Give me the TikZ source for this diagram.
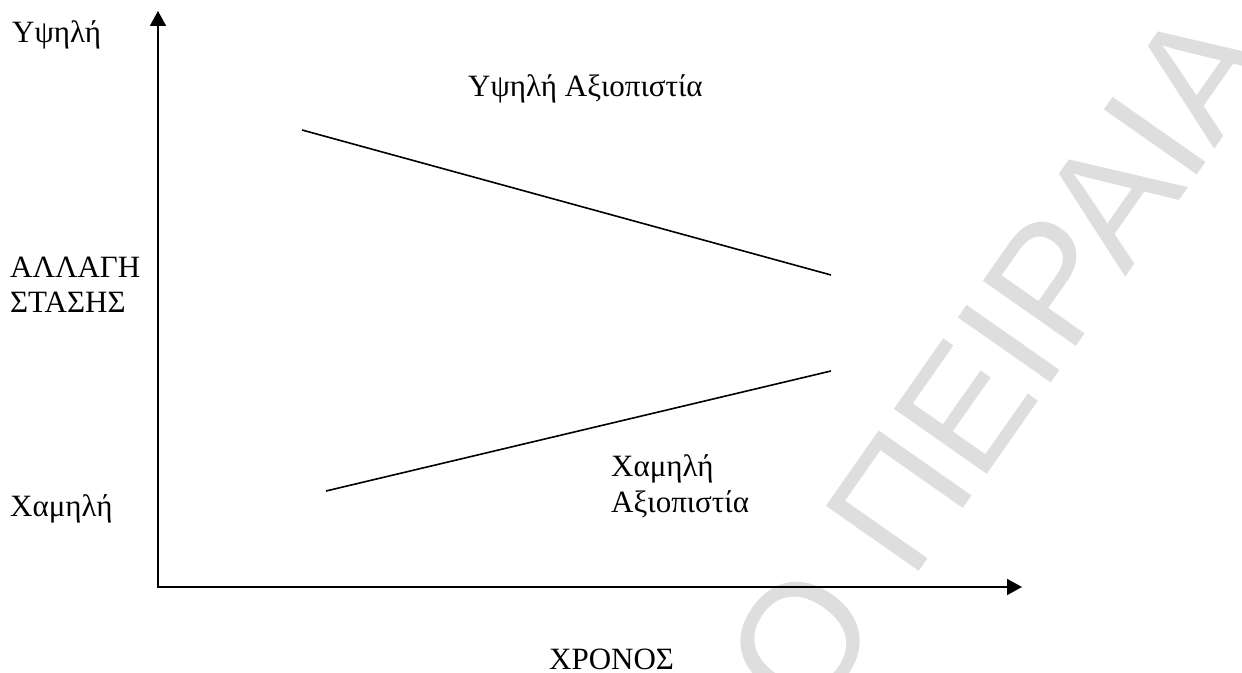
\documentclass[tikz,border=0pt]{standalone}
\usepackage{fontspec}
\setmainfont{Liberation Serif}
\newfontfamily\wmfont{Liberation Sans}
\usetikzlibrary{arrows.meta,positioning}

\begin{document}
\begin{tikzpicture}[x=1pt, y=1pt]
  \tikzstyle{lbl} = [inner sep=0pt, anchor=base west, font=\fontsize{31}{37}\selectfont]
  \tikzstyle{axis} = [line width=1.8pt, {Triangle[length=15pt,width=16pt]}-{Triangle[length=15pt,width=16pt]}]
  \tikzstyle{trend} = [line width=1.6pt]
  \tikzstyle{wmark} = [inner sep=0pt, text=black!13, font=\wmfont\fontsize{165}{190}\selectfont, transform shape]

  \useasboundingbox (0,0) rectangle (1242,672);
  \clip (0,0) rectangle (1242,672);

  % watermark
  \begin{scope}[shift={(911,89)}, rotate=55]
    \node (wmcity) [wmark, anchor=base west] at (0,0) {ΠΕΙΡΑΙΑ};
    \node (wmuni) [wmark, anchor=base east] at (-46,0) {ΠΑΝΕΠΙΣΤΗΜΙΟ};
  \end{scope}

  % axes
  \coordinate (origin) at (158,85);
  \coordinate (ytip) at (158,661);
  \coordinate (xtip) at (1022,85);
  \draw [axis] (ytip) -- (origin) -- (xtip);

  % trend lines
  \coordinate (hiA) at (302,542);
  \coordinate (hiB) at (831,397);
  \coordinate (loA) at (326,181);
  \coordinate (loB) at (831,301);
  \draw [trend] (hiA) -- (hiB);
  \draw [trend] (loA) -- (loB);

  % labels
  \node (high) [lbl] at (12,629) {Υψηλή};
  \node (chgA) [lbl] at (10,394) {ΑΛΛΑΓΗ};
  \node (chgB) [lbl] at (10,359) {ΣΤΑΣΗΣ};
  \node (low) [lbl] at (10,155) {Χαμηλή};
  \node (hicred) [lbl] at (468,575) {Υψηλή Αξιοπιστία};
  \node (locredA) [lbl] at (611,195) {Χαμηλή};
  \node (locredB) [lbl] at (611,159) {Αξιοπιστία};
  \node (time) [lbl] at (549,3) {ΧΡΟΝΟΣ};
\end{tikzpicture}
\end{document}
